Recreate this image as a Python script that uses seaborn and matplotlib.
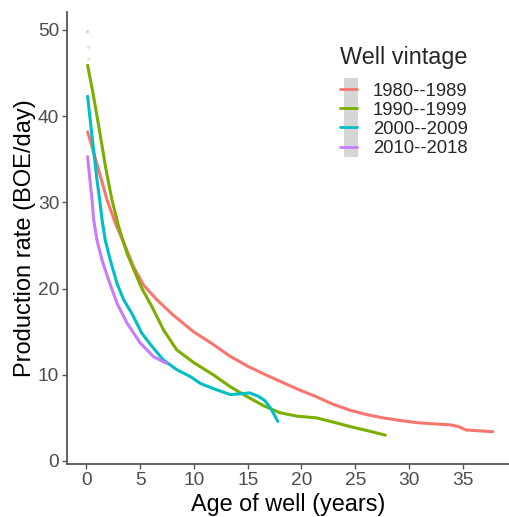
import numpy as np
import pandas as pd
import matplotlib
matplotlib.use("Agg")
import matplotlib.pyplot as plt
import seaborn as sns
from matplotlib.patches import Patch, Rectangle
from matplotlib.lines import Line2D
from matplotlib.legend_handler import HandlerPatch

# Smoothed production curves (age in years, BOE/day)
vintages = ["1980--1989", "1990--1999", "2000--2009", "2010--2018"]
colors = ["#F8766D", "#7CAE00", "#00BFC4", "#C77CFF"]

age_80s = [0.12, 1.0, 1.92, 2.69, 3.62, 4.4, 5.32, 6.56, 8.1, 9.96, 11.7, 13.3, 15.0,
           16.5, 18.1, 19.7, 21.3, 22.9, 24.5, 26.0, 27.6, 29.2, 30.7, 32.3, 33.8,
           34.6, 35.3, 36.5, 37.8]
rate_80s = [38.2, 34.4, 30.3, 27.6, 24.9, 22.5, 20.4, 18.7, 16.9, 15.0, 13.6, 12.2, 11.0,
            10.1, 9.2, 8.3, 7.5, 6.6, 5.9, 5.4, 5.0, 4.7, 4.45, 4.3, 4.2,
            4.0, 3.6, 3.5, 3.4]

age_90s = [0.12, 0.6, 1.2, 1.8, 2.38, 3.0, 3.78, 4.55, 5.17, 6.1, 7.18, 8.4, 10.0,
           11.8, 13.4, 14.9, 16.5, 18.0, 19.6, 21.4, 23.0, 24.5, 26.2, 27.8]
rate_90s = [45.9, 42.8, 38.5, 34.0, 30.3, 27.2, 24.1, 21.8, 20.0, 17.9, 15.2, 12.9, 11.4,
            10.0, 8.6, 7.5, 6.4, 5.6, 5.2, 5.0, 4.5, 4.0, 3.5, 3.0]

age_00s = [0.12, 0.5, 1.0, 1.24, 1.46, 1.76, 2.23, 2.85, 3.47, 4.24, 5.17, 6.1, 7.18,
           8.4, 9.66, 10.6, 11.8, 13.4, 14.4, 15.2, 16.0, 16.6, 17.2, 17.5, 17.8]
rate_00s = [42.3, 38.0, 32.5, 30.3, 28.0, 25.6, 23.3, 20.6, 18.7, 17.1, 14.8, 13.3, 11.7,
            10.6, 9.8, 9.0, 8.4, 7.7, 7.8, 7.9, 7.5, 7.0, 6.0, 5.3, 4.6]

age_10s = [0.12, 0.3, 0.53, 0.68, 0.99, 1.46, 2.07, 2.85, 3.78, 5.0, 6.25, 7.5]
rate_10s = [35.3, 33.0, 30.3, 28.0, 25.6, 23.3, 21.0, 18.3, 16.0, 13.7, 12.1, 11.3]

# a few faint raw points visible near age 0
pt_age = [0.1, 0.2, 0.2]
pt_rate = [49.8, 48.0, 46.6]

frames = []
for name, a, r in zip(vintages, [age_80s, age_90s, age_00s, age_10s],
                      [rate_80s, rate_90s, rate_00s, rate_10s]):
    frames.append(pd.DataFrame({"age": a, "rate": r, "vintage": name}))
df = pd.concat(frames, ignore_index=True)

sns.set_theme(style="white")
plt.rcParams['font.family'] = ['Liberation Sans', 'DejaVu Sans']

fig = plt.figure(figsize=(5.09, 5.17), dpi=100)
ax = fig.add_axes([0.1316, 0.1025, 0.8684, 0.8745])

ax.scatter(pt_age, pt_rate, s=6, color=["#bbbbbb", "#d8dca0", "#d8dca0"],
           alpha=0.6, linewidths=0, zorder=1)

sns.lineplot(data=df, x="age", y="rate", hue="vintage", hue_order=vintages,
             palette=colors, linewidth=2.2, sort=False, estimator=None,
             legend=False, ax=ax)

ax.set_xlim(-1.8, 39.3)
ax.set_ylim(-0.35, 52.1)
ax.set_xticks([0, 5, 10, 15, 20, 25, 30, 35])
ax.set_yticks([0, 10, 20, 30, 40, 50])

for side in ["top", "right"]:
    ax.spines[side].set_visible(False)
for side in ["left", "bottom"]:
    ax.spines[side].set_color("#555555")
    ax.spines[side].set_linewidth(1.3)

ax.tick_params(axis="both", which="major", length=3.6, width=1.0, color="#555555",
               labelsize=13.8, labelcolor="#4D4D4D", pad=2, bottom=True, left=True)

ax.set_xlabel("Age of well (years)", fontsize=16.8, color="black", labelpad=3)
ax.set_ylabel("Production rate (BOE/day)", fontsize=17, color="black", labelpad=1)


# legend keys: grey ribbon box filling the whole row, coloured line on top
def tall_box(legend, orig_handle, xdescent, ydescent, width, height, fontsize):
    return Rectangle((-xdescent + 0.22 * fontsize, -0.22 * fontsize),
                     0.75 * fontsize, 1.2 * fontsize)


handles = []
for c in colors:
    handles.append((Patch(facecolor="#d6d6d6", edgecolor="none"),
                    Line2D([], [], color=c, linewidth=2.0)))
leg = ax.legend(handles, vintages, title="Well vintage", loc="upper left",
                bbox_to_anchor=(0.597, 0.945), frameon=False, fontsize=13.3,
                title_fontsize=16.8, handlelength=0.9, handleheight=0.7,
                handletextpad=0.88, labelspacing=0.11, borderpad=0.0,
                alignment="left",
                handler_map={Patch: HandlerPatch(patch_func=tall_box)})
leg._legend_box.sep = 10

fig.savefig("out.png", dpi=100)
